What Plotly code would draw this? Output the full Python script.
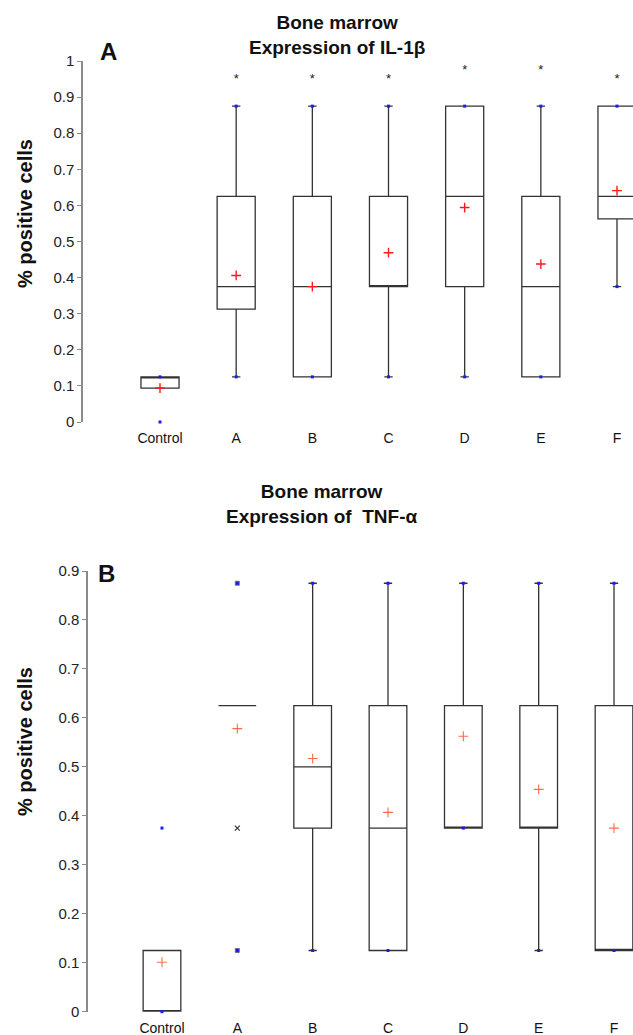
import plotly.graph_objects as go

categories = ["Control", "A", "B", "C", "D", "E", "F"]

# Panel A: IL-1beta
il1b_q1 = [0.094, 0.3125, 0.125, 0.375, 0.375, 0.125, 0.5625]
il1b_median = [0.125, 0.375, 0.375, 0.375, 0.625, 0.375, 0.625]
il1b_q3 = [0.125, 0.625, 0.625, 0.625, 0.875, 0.625, 0.875]
il1b_lower = [0.094, 0.125, 0.125, 0.125, 0.125, 0.125, 0.375]
il1b_upper = [0.125, 0.875, 0.875, 0.875, 0.875, 0.875, 0.875]
il1b_mean = [0.094, 0.406, 0.375, 0.469, 0.594, 0.4375, 0.641]
il1b_min = [0.0, 0.125, 0.125, 0.125, 0.125, 0.125, 0.375]
il1b_max = [0.125, 0.875, 0.875, 0.875, 0.875, 0.875, 0.875]
il1b_star_cats = ["A", "B", "C", "D", "E", "F"]
il1b_star_y = [0.947, 0.947, 0.947, 0.972, 0.972, 0.947]

# Panel B: TNF-alpha
tnf_q1 = [0.0, 0.625, 0.375, 0.125, 0.375, 0.375, 0.125]
tnf_median = [0.0, 0.625, 0.5, 0.375, 0.375, 0.375, 0.125]
tnf_q3 = [0.125, 0.625, 0.625, 0.625, 0.625, 0.625, 0.625]
tnf_lower = [0.0, 0.625, 0.125, 0.125, 0.375, 0.125, 0.125]
tnf_upper = [0.125, 0.625, 0.875, 0.875, 0.875, 0.875, 0.875]
tnf_mean = [0.101, 0.578, 0.517, 0.407, 0.5625, 0.454, 0.375]
tnf_min_cats = ["Control", "B", "C", "D", "E", "F"]
tnf_min = [0.0, 0.125, 0.125, 0.375, 0.125, 0.125]
tnf_max_cats = ["Control", "B", "C", "D", "E", "F"]
tnf_max = [0.375, 0.875, 0.875, 0.875, 0.875, 0.875]
tnf_a_extremes = [0.875, 0.125]
tnf_a_outlier = [0.375]
tnf_star_cats = ["A", "B", "C", "D", "E"]
tnf_star_y = [0.957, 0.955, 0.955, 0.955, 0.953]

W, H = 633, 1035
pos = {c: i for i, c in enumerate(categories)}
xs = list(range(len(categories)))

FONT = "Arial, Liberation Sans, sans-serif"
BOXLINE = dict(color="#333333", width=1.3)

fig = go.Figure()

def add_panel(xa, ya, q1, med, q3, lo, hi, mean_vals, mean_color, mean_w):
    fig.add_trace(go.Box(
        x=xs, q1=q1, median=med, q3=q3, lowerfence=lo, upperfence=hi,
        width=0.5, whiskerwidth=0.22, boxpoints=False,
        fillcolor="rgba(255,255,255,0)", line=BOXLINE,
        xaxis=xa, yaxis=ya, showlegend=False, hoverinfo="skip"))
    fig.add_trace(go.Scatter(
        x=xs, y=mean_vals, mode="markers", xaxis=xa, yaxis=ya,
        marker=dict(symbol="cross-thin", size=7,
                    line=dict(color=mean_color, width=mean_w)),
        cliponaxis=False, showlegend=False, hoverinfo="skip"))

# ---- Panel A
add_panel("x", "y", il1b_q1, il1b_median, il1b_q3, il1b_lower, il1b_upper,
          il1b_mean, "#ff1a1a", 1.4)
fig.add_trace(go.Scatter(
    x=xs + xs, y=il1b_min + il1b_max, mode="markers", xaxis="x", yaxis="y",
    marker=dict(symbol="square", size=3, color="#1a1aff"),
    cliponaxis=False, showlegend=False, hoverinfo="skip"))
fig.add_trace(go.Scatter(
    x=[pos[c] for c in il1b_star_cats], y=il1b_star_y, mode="text",
    text=["*"] * len(il1b_star_cats), xaxis="x", yaxis="y",
    textfont=dict(family=FONT, size=13, color="#222"),
    cliponaxis=False, showlegend=False, hoverinfo="skip"))

# ---- Panel B
add_panel("x2", "y2", tnf_q1, tnf_median, tnf_q3, tnf_lower, tnf_upper,
          tnf_mean, "#ff6a4a", 1.1)
fig.add_trace(go.Scatter(
    x=[pos[c] for c in tnf_min_cats] + [pos[c] for c in tnf_max_cats],
    y=tnf_min + tnf_max, mode="markers", xaxis="x2", yaxis="y2",
    marker=dict(symbol="square", size=3, color="#1a1aff"),
    cliponaxis=False, showlegend=False, hoverinfo="skip"))
fig.add_trace(go.Scatter(
    x=[pos["A"]] * len(tnf_a_extremes), y=tnf_a_extremes, mode="markers",
    xaxis="x2", yaxis="y2",
    marker=dict(symbol="square", size=4, color="#1a1aff",
                line=dict(color="#666", width=0.8)),
    cliponaxis=False, showlegend=False, hoverinfo="skip"))
fig.add_trace(go.Scatter(
    x=[pos["A"]] * len(tnf_a_outlier), y=tnf_a_outlier, mode="markers",
    xaxis="x2", yaxis="y2",
    marker=dict(symbol="x-thin", size=5, line=dict(color="#333", width=1.2)),
    cliponaxis=False, showlegend=False, hoverinfo="skip"))
fig.add_trace(go.Scatter(
    x=[pos[c] + 0.04 for c in tnf_star_cats], y=tnf_star_y, mode="text",
    text=["*"] * len(tnf_star_cats), xaxis="x2", yaxis="y2",
    textfont=dict(family=FONT, size=13, color="#222"),
    cliponaxis=False, showlegend=False, hoverinfo="skip"))

def py(p):
    return 1 - p / H

yax_common = dict(showgrid=False, zeroline=False, showline=True,
                  linecolor="#8a8a8a", linewidth=1.5, ticks="outside",
                  ticklen=4, tickcolor="#8a8a8a", tickwidth=1.2,
                  tickfont=dict(family=FONT, size=15, color="#222"),
                  dtick=0.1, tick0=0, fixedrange=True, automargin=False)
xax_common = dict(showgrid=False, zeroline=False, showline=False,
                  tickmode="array", tickvals=xs, ticktext=categories,
                  ticks="outside", ticklen=3, tickcolor="rgba(0,0,0,0)",
                  tickfont=dict(family=FONT, size=14, color="#111"),
                  fixedrange=True, automargin=False)

fig.update_layout(
    width=W, height=H, margin=dict(l=0, r=0, t=0, b=0),
    paper_bgcolor="white", plot_bgcolor="white",
    xaxis=dict(domain=[83 / W, 1], range=[-1.011, 6.21], anchor="y",
               **xax_common),
    yaxis=dict(domain=[py(422), py(61)], range=[0, 1], anchor="x",
               **yax_common),
    xaxis2=dict(domain=[88 / W, 1], range=[-0.982, 6.252], anchor="y2",
                **xax_common),
    yaxis2=dict(domain=[py(1011.7), py(571)], range=[0, 0.9], anchor="x2",
                **yax_common),
)

ann = [
    dict(text="<b>Bone marrow<br>Expression of IL-1β</b>", x=337 / W,
         y=py(35), font=dict(size=19)),
    dict(text="<b>Bone marrow<br>Expression of  TNF-α</b>", x=321 / W,
         y=py(504), font=dict(size=19)),
    dict(text="<b>A</b>", x=108 / W, y=py(52), font=dict(size=24)),
    dict(text="<b>B</b>", x=107 / W, y=py(573), font=dict(size=24)),
    dict(text="<b>% positive cells</b>", x=25 / W, y=py(214),
         font=dict(size=20), textangle=-90),
    dict(text="<b>% positive cells</b>", x=25 / W, y=py(742),
         font=dict(size=20), textangle=-90),
]
for a in ann:
    a.update(xref="paper", yref="paper", showarrow=False,
             xanchor="center", yanchor="middle")
    a["font"] = dict(family=FONT, color="#111", **a["font"])
fig.update_layout(annotations=ann)

fig.write_html("out.html")
